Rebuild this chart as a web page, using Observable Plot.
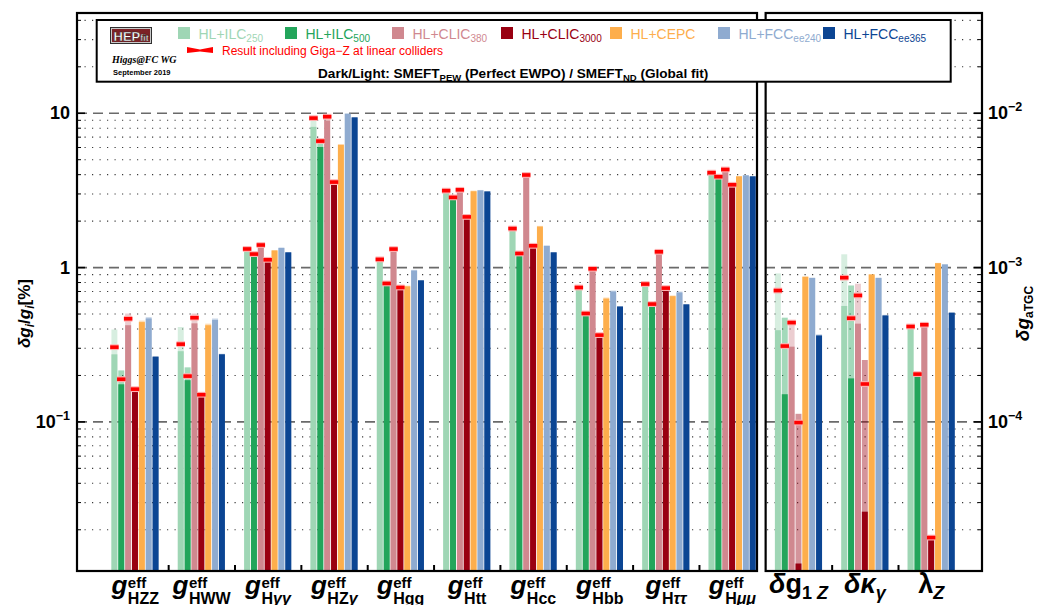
<!DOCTYPE html>
<html><head><meta charset="utf-8">
<script src="https://cdn.jsdelivr.net/npm/d3@7"></script>
<script src="https://cdn.jsdelivr.net/npm/@observablehq/plot@0.6"></script>
<style>
body{margin:0;background:#fff;}
#chart{width:1042px;height:605px;}
</style></head><body><div id="chart"></div>
<script>
// ---------------- data ----------------
const couplings = ["HZZ","HWW","Hγγ","HZγ","Hgg","Htt","Hcc","Hbb","Hττ","Hμμ"];
const tgcNames = [["δg","1 Z"],["δκ","γ"],["λ","Z"]];
const colliders = ["HL+ILC250","HL+ILC500","HL+CLIC380","HL+CLIC3000","HL+CEPC","HL+FCCee240","HL+FCCee365"];
const colliderMain = ["HL+ILC","HL+ILC","HL+CLIC","HL+CLIC","HL+CEPC","HL+FCC","HL+FCC"];
const colliderSub  = ["250","500","380","3000","","ee240","ee365"];
const colors = ["#9fd6b5","#23a55b","#d0888f","#990011","#fdae4c","#8fabd0","#0b4593"];

// δg/g [%] : SMEFT_ND (global fit, light), SMEFT_PEW (dark), incl. Giga-Z (red)
const nd_ILC250  = [0.394,0.409,1.32,9.3,1.14,3.16,1.80,0.75,0.79,4.14];
const pew_ILC250 = [0.272,0.285,1.30,8.1,1.12,3.12,1.77,0.73,0.77,4.08];
const gz_ILC250  = [0.305,0.319,1.32,9.3,1.13,3.15,1.79,0.743,0.782,4.12];
const nd_ILC500  = [0.214,0.224,1.23,6.6,0.79,2.87,1.24,0.51,0.585,3.90];
const pew_ILC500 = [0.174,0.185,1.21,6.0,0.78,2.83,1.22,0.495,0.57,3.84];
const gz_ILC500  = [0.189,0.198,1.223,6.6,0.789,2.85,1.234,0.504,0.58,3.88];
const nd_CLIC380  = [0.50,0.50,1.41,9.6,1.33,3.21,4.00,0.985,1.27,4.34];
const pew_CLIC380 = [0.42,0.432,1.38,8.9,1.30,3.17,3.96,0.97,1.25,4.28];
const gz_CLIC380  = [0.466,0.473,1.40,9.5,1.318,3.19,3.98,0.982,1.265,4.32];
const nd_CLIC3000  = [0.165,0.152,1.13,3.62,0.745,2.14,1.39,0.367,0.74,3.46];
const pew_CLIC3000 = [0.158,0.146,1.11,3.50,0.735,2.10,1.37,0.36,0.725,3.40];
const gz_CLIC3000  = [0.163,0.150,1.123,3.58,0.743,2.13,1.384,0.365,0.736,3.44];
const nd_CEPC  = [0.45,0.43,1.29,6.25,0.758,3.13,1.85,0.635,0.655,3.89];
const pew_CEPC = [0.44,0.42,1.28,6.20,0.75,3.10,1.83,0.625,0.648,3.87];
const nd_FCC240  = [0.475,0.465,1.34,9.9,0.96,3.16,1.385,0.705,0.695,3.95];
const pew_FCC240 = [0.465,0.455,1.33,9.85,0.95,3.14,1.37,0.695,0.685,3.93];
const nd_FCC365  = [0.265,0.274,1.25,9.35,0.822,3.10,1.25,0.557,0.575,3.88];
const pew_FCC365 = [0.262,0.272,1.245,9.33,0.82,3.09,1.245,0.555,0.573,3.87];

// δg_aTGC (absolute) for δg1Z, δκγ, λZ
const tgcND_ILC250  = [9.1e-4,1.21e-3,4.15e-4];
const tgcPEW_ILC250 = [3.9e-4,5.6e-4,4.1e-4];
const tgcGZ_ILC250  = [7.1e-4,8.6e-4,4.15e-4];
const tgcND_ILC500  = [4.7e-4,7.6e-4,2.05e-4];
const tgcPEW_ILC500 = [1.5e-4,1.9e-4,1.94e-4];
const tgcGZ_ILC500  = [3.1e-4,4.7e-4,2.04e-4];
const tgcND_CLIC380  = [4.4e-4,7.8e-4,4.26e-4];
const tgcPEW_CLIC380 = [3.05e-4,4.3e-4,4.2e-4];
const tgcGZ_CLIC380  = [4.4e-4,6.6e-4,4.26e-4];
const tgcND_CLIC3000  = [1.12e-4,2.5e-4,1.8e-5];
const tgcPEW_CLIC3000 = [1.2e-5,2.6e-5,1.75e-5];
const tgcGZ_CLIC3000  = [9.9e-5,1.76e-4,1.78e-5];
const tgcND_CEPC  = [8.7e-4,9.0e-4,1.065e-3];
const tgcPEW_CEPC = [8.65e-4,8.95e-4,1.06e-3];
const tgcND_FCC240  = [8.55e-4,8.55e-4,1.045e-3];
const tgcPEW_FCC240 = [8.5e-4,8.5e-4,1.04e-3];
const tgcND_FCC365  = [3.65e-4,4.9e-4,5.1e-4];
const tgcPEW_FCC365 = [3.6e-4,4.85e-4,5.05e-4];

const yTicksLeft = [0.1, 1, 10];
const yTicksRight = [1e-4, 1e-3, 1e-2];
const tgcToPercent = 1000; // right axis 10^-3 ↔ left axis 1

// -------------- table --------------
const ndS  = [nd_ILC250, nd_ILC500, nd_CLIC380, nd_CLIC3000, nd_CEPC, nd_FCC240, nd_FCC365];
const pewS = [pew_ILC250, pew_ILC500, pew_CLIC380, pew_CLIC3000, pew_CEPC, pew_FCC240, pew_FCC365];
const gzS  = [gz_ILC250, gz_ILC500, gz_CLIC380, gz_CLIC3000, null, null, null];
const tndS  = [tgcND_ILC250, tgcND_ILC500, tgcND_CLIC380, tgcND_CLIC3000, tgcND_CEPC, tgcND_FCC240, tgcND_FCC365];
const tpewS = [tgcPEW_ILC250, tgcPEW_ILC500, tgcPEW_CLIC380, tgcPEW_CLIC3000, tgcPEW_CEPC, tgcPEW_FCC240, tgcPEW_FCC365];
const tgzS  = [tgcGZ_ILC250, tgcGZ_ILC500, tgcGZ_CLIC380, tgcGZ_CLIC3000, null, null, null];

const rows = [];
colliders.forEach((c, j) => {
  couplings.forEach((g, i) => rows.push({i, j, nd: ndS[j][i], pew: pewS[j][i], gz: gzS[j] ? gzS[j][i] : null}));
  tgcNames.forEach((g, k) => rows.push({i: 10 + k, j, nd: tndS[j][k] * tgcToPercent, pew: tpewS[j][k] * tgcToPercent,
    gz: tgzS[j] ? tgzS[j][k] * tgcToPercent : null}));
});

// -------------- layout --------------
const bw = 0.1034;                 // bar width in group units
const xMin = -0.874, xMax = 12.766;
const leftEnd = 9.375, rightStart = 9.505;
const yMin = 0.01073, yMax = 44.3;
const bx1 = d => d.i + (d.j - 3.5) * bw, bx2 = d => d.i + (d.j - 2.5) * bw;
const mx1 = d => bx1(d) - 0.012, mx2 = d => bx2(d) + 0.012;
const minorTicks = [];
for (const e of [-2, -1, 0, 1]) for (let m = 2; m <= 9; m++) { const v = m * 10 ** e; if (v > yMin && v < yMax) minorTicks.push(+v.toPrecision(3)); }
const pxPerUnit = 905 / (xMax - xMin);
const tIn = 4 / pxPerUnit, tMaj = 8 / pxPerUnit;
const tickTop = yMin * 10 ** (6 / 154.3);
const bounds = [0.5,1.5,2.5,3.5,4.5,5.5,6.5,7.5,8.5,10.5,11.5];
const FONT = "'Liberation Sans', Arial, Helvetica, sans-serif";

const chart = Plot.plot({
  width: 1042, height: 605,
  marginLeft: 77, marginRight: 60, marginTop: 13, marginBottom: 34,
  style: {fontFamily: FONT},
  x: {type: "linear", domain: [xMin, xMax], axis: null},
  y: {type: "log", domain: [yMin, yMax], axis: null},
  color: {type: "identity"},
  marks: [
    Plot.ruleY(minorTicks, {stroke: "#3a3a3a", strokeWidth: 1.1, strokeDasharray: "1.2,6.3"}),
    Plot.ruleY(yTicksLeft, {stroke: "#6a6a6a", strokeWidth: 1.7, strokeDasharray: "10,6"}),
    Plot.rect(rows, {x1: bx1, x2: bx2, y1: () => yMin, y2: "nd", fill: d => colors[d.j], fillOpacity: 0.42, insetLeft: 0.45, insetRight: 0.45}),
    Plot.rect(rows, {x1: bx1, x2: bx2, y1: () => yMin, y2: "pew", fill: d => colors[d.j], insetLeft: 0.45, insetRight: 0.45}),
    Plot.ruleY(rows.filter(d => d.gz != null), {y: "gz", x1: mx1, x2: mx2, stroke: "#ffb0b0", strokeWidth: 5.8}),
    Plot.ruleY(rows.filter(d => d.gz != null), {y: "gz", x1: mx1, x2: mx2, stroke: "#ff0000", strokeWidth: 3.6}),
    Plot.rect([0], {x1: leftEnd, x2: rightStart, y1: yMin, y2: yMax, fill: "white"}),
    Plot.ruleX(bounds, {y1: yMin, y2: tickTop, stroke: "black", strokeWidth: 2}),
    Plot.ruleY(minorTicks, {x1: xMin, x2: xMin + tIn, stroke: "black", strokeWidth: 1}),
    Plot.ruleY(minorTicks, {x1: xMax - tIn, x2: xMax, stroke: "black", strokeWidth: 1}),
    Plot.ruleY(yTicksLeft, {x1: xMin, x2: xMin + tMaj, stroke: "black", strokeWidth: 1.6}),
    Plot.ruleY(yTicksLeft, {x1: xMax - tMaj, x2: xMax, stroke: "black", strokeWidth: 1.6}),
    Plot.rect([0], {x1: xMin, x2: leftEnd, y1: yMin, y2: yMax, fill: "none", stroke: "black", strokeWidth: 2.2}),
    Plot.rect([0], {x1: rightStart, x2: xMax, y1: yMin, y2: yMax, fill: "none", stroke: "black", strokeWidth: 2.2})
  ]
});
document.getElementById("chart").appendChild(chart);

// -------------- text via scales --------------
const X = chart.scale("x"), Y = chart.scale("y");
const svg = d3.select(chart).append("g").attr("text-anchor", "start").attr("font-family", FONT).attr("fill", "black");
const isGreek = ch => /[\u0370-\u03ff]/.test(ch);

function couplingLabel(cx, name) {
  const g = svg.append("g").attr("font-weight", "bold");
  const tg = g.append("text").attr("y", 594).attr("font-size", 26).attr("font-style", "italic").text("g");
  const sup = g.append("text").attr("y", 588).attr("font-size", 15).text("eff");
  const sub = g.append("text").attr("y", 603.5).attr("font-size", 16);
  for (const ch of name) sub.append("tspan").attr("font-style", isGreek(ch) ? "italic" : "normal").text(ch);
  const w1 = tg.node().getComputedTextLength();
  const w2 = Math.max(sup.node().getComputedTextLength(), sub.node().getComputedTextLength());
  const x0 = cx - (w1 + w2) / 2;
  tg.attr("x", x0); sup.attr("x", x0 + w1 + 0.5); sub.attr("x", x0 + w1 + 0.5);
}
couplings.forEach((c, i) => couplingLabel(X.apply(i), c));

function tgcLabel(cx, main, subt) {
  const g = svg.append("g").attr("font-weight", "bold");
  const t = g.append("text").attr("y", 593).attr("font-size", 27);
  for (const ch of main) t.append("tspan").attr("font-style", ch === "δ" || ch === "κ" ? "italic" : "normal").text(ch);
  const s = t.append("tspan").attr("font-size", 18).attr("dy", 6);
  for (const ch of subt) s.append("tspan").attr("font-style", /[A-Zγ]/.test(ch) ? "italic" : "normal").text(ch);
  const w = t.node().getComputedTextLength();
  t.attr("x", cx - w / 2);
}
tgcNames.forEach(([m, s], k) => tgcLabel(X.apply(10 + k), m, s));

// y tick labels
function powLabel(x, y, anchor, v) {
  const t = svg.append("text").attr("x", x).attr("y", y + 6.5).attr("text-anchor", anchor)
    .attr("font-size", 18).attr("font-weight", "bold");
  const e = Math.round(Math.log10(v));
  if (e === 0) t.text("1");
  else if (e === 1) t.text("10");
  else { t.append("tspan").text("10"); t.append("tspan").attr("font-size", 12.5).attr("dy", -8).text("−" + (-e)); }
}
yTicksLeft.forEach(v => powLabel(70, Y.apply(v), "end", v));
yTicksRight.forEach(v => powLabel(988, Y.apply(v * tgcToPercent), "start", v));

// axis titles
const yl = svg.append("text").attr("transform", `translate(30,${Y.apply(0.5)}) rotate(-90)`).attr("text-anchor", "middle")
  .attr("font-size", 17).attr("font-weight", "bold");
yl.append("tspan").attr("font-style", "italic").text("δg");
yl.append("tspan").attr("font-style", "italic").attr("font-size", 12).attr("dy", 4).text("i");
yl.append("tspan").attr("dy", -4).text("/");
yl.append("tspan").attr("font-style", "italic").text("g");
yl.append("tspan").attr("font-style", "italic").attr("font-size", 12).attr("dy", 4).text("i");
yl.append("tspan").attr("dy", -4).text("[%]");

const yr = svg.append("text").attr("transform", `translate(1029,${Y.apply(0.5)}) rotate(-90)`).attr("text-anchor", "middle")
  .attr("font-size", 19).attr("font-weight", "bold");
yr.append("tspan").attr("font-style", "italic").text("δg");
yr.append("tspan").attr("font-size", 12).attr("dy", 4).text("aTGC");

// -------------- legend --------------
const lg = svg.append("g");
lg.append("rect").attr("x", 96.7).attr("y", 20).attr("width", 854).attr("height", 61.7)
  .attr("fill", "white").attr("stroke", "black").attr("stroke-width", 2);
// HEPfit logo
lg.append("rect").attr("x", 110).attr("y", 27).attr("width", 42).attr("height", 17).attr("fill", "#2f2f2f");
lg.append("rect").attr("x", 111.5).attr("y", 28.5).attr("width", 39).attr("height", 14).attr("fill", "#7c2226").attr("stroke", "#c9c9c9").attr("stroke-width", 1);
const logo = lg.append("text").attr("x", 113.5).attr("y", 40.5).attr("fill", "white").attr("font-weight", "bold")
  .attr("stroke", "#222").attr("stroke-width", 0.4);
logo.append("tspan").attr("font-size", 13).text("HEP");
logo.append("tspan").attr("font-size", 9).text("fit");
lg.append("text").attr("x", 112).attr("y", 63).attr("font-family", "'Liberation Serif','DejaVu Serif',serif")
  .attr("font-style", "italic").attr("font-weight", "bold").attr("font-size", 10).text("Higgs@FC WG");
lg.append("text").attr("x", 113).attr("y", 74.5).attr("font-weight", "bold").attr("font-size", 7.5).text("September 2019");

const swX = [178, 285, 392, 501, 610, 718, 823];
colliders.forEach((c, j) => {
  lg.append("rect").attr("x", swX[j]).attr("y", 27).attr("width", 12).attr("height", 12).attr("fill", colors[j]);
  const t = lg.append("text").attr("x", swX[j] + 20.5).attr("y", 38.5).attr("font-size", 14).attr("fill", colors[j]);
  t.append("tspan").text(colliderMain[j]);
  if (colliderSub[j]) t.append("tspan").attr("font-size", 10).attr("dy", 3).text(colliderSub[j]);
});
lg.append("path").attr("d", "M187,47 L200,49.6 L213,47 L213,53 L200,51.6 L187,53 Z").attr("fill", "#ff0000");
lg.append("text").attr("x", 222).attr("y", 55).attr("font-size", 12).attr("fill", "#ff0000")
  .text("Result including Giga−Z at linear colliders");
const dl = lg.append("text").attr("x", 318).attr("y", 78.3).attr("font-size", 13.6).attr("font-weight", "bold");
dl.append("tspan").text("Dark/Light: SMEFT");
dl.append("tspan").attr("font-size", 9.5).attr("dy", 3).text("PEW");
dl.append("tspan").attr("dy", -3).text(" (Perfect EWPO) / SMEFT");
dl.append("tspan").attr("font-size", 9.5).attr("dy", 3).text("ND");
dl.append("tspan").attr("dy", -3).text(" (Global fit)");
</script></body></html>
